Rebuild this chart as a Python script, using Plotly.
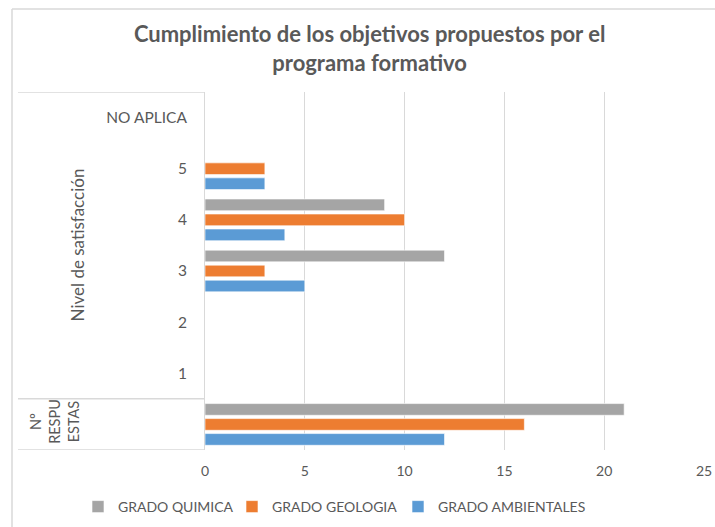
import plotly.graph_objects as go

categories = ["Nº RESPUESTAS", "1", "2", "3", "4", "5", "NO APLICA"]
tick_labels = ["", "1", "2", "3", "4", "5", "NO APLICA"]
quimica = [21, None, None, 12, 9, None, None]
geologia = [16, None, None, 3, 10, 3, None]
ambientales = [12, None, None, 5, 4, 3, None]

# (name, values, colour, legend id, legend text start px)
series = [
    ("GRADO AMBIENTALES", ambientales, "#5B9BD5", "legend3", 438),
    ("GRADO GEOLOGIA", geologia, "#ED7D31", "legend2", 272),
    ("GRADO QUIMICA", quimica, "#A5A5A5", "legend", 118),
]

FONT = "Lato"
GREY_TXT = "#595959"
LINE = "#D9D9D9"

fig = go.Figure()
for name, vals, col, leg, _ in series:
    fig.add_trace(go.Bar(
        y=categories, x=vals, name=name, orientation="h", legend=leg,
        showlegend=True,
        marker=dict(color=col, line=dict(color="rgba(255,255,255,0.6)", width=1)),
    ))

legend_layout = {}
for name, vals, col, leg, tx in series:
    legend_layout[leg] = dict(
        orientation="h",
        xref="container", yref="container",
        x=(tx - 40) / 715, xanchor="left",
        y=1 - 507 / 527, yanchor="middle",
        font=dict(family=FONT, size=14, color=GREY_TXT),
        itemwidth=30, bgcolor="rgba(0,0,0,0)",
    )

fig.update_layout(
    width=715, height=527,
    showlegend=True,
    margin=dict(l=205, r=11, t=92, b=77, autoexpand=False),
    paper_bgcolor="white", plot_bgcolor="white",
    barmode="group", bargap=0.12, bargroupgap=0.22,
    font=dict(family=FONT, size=14, color=GREY_TXT),
    title=dict(
        text="<b>Cumplimiento de los objetivos propuestos por el<br>programa formativo</b>",
        x=0.517, xref="container", xanchor="center",
        y=1 - 42 / 527, yref="container", yanchor="middle",
        font=dict(family=FONT, size=22, color=GREY_TXT),
    ),
    xaxis=dict(
        range=[0, 25], dtick=5, tick0=0,
        showgrid=True, gridcolor=LINE, gridwidth=1,
        zeroline=False, showline=False,
        ticks="", ticklabelstandoff=11,
        tickfont=dict(family=FONT, size=14, color=GREY_TXT),
        fixedrange=True,
    ),
    yaxis=dict(
        type="category", categoryorder="array", categoryarray=categories,
        tickvals=categories, ticktext=tick_labels,
        range=[-0.5, 6.5],
        showline=True, linecolor=LINE, linewidth=1,
        showgrid=False, zeroline=False,
        ticks="", ticklabelstandoff=14,
        tickfont=dict(family=FONT, size=15.5, color=GREY_TXT),
        fixedrange=True,
    ),
    **legend_layout,
)

# multi-level category dividers
for yv in [-0.5, 0.5, 6.5]:
    fig.add_shape(type="line", xref="paper", yref="y",
                  x0=(18 - 205) / 499, x1=0, y0=yv, y1=yv,
                  line=dict(color=LINE, width=1.5))

# outer chart border (left and top)
fig.add_shape(type="line", xref="paper", yref="paper",
              x0=(12 - 205) / 499, x1=(12 - 205) / 499,
              y0=(450 - 527) / 358, y1=(450 - 9) / 358,
              line=dict(color=LINE, width=1.5))
fig.add_shape(type="line", xref="paper", yref="paper",
              x0=(12 - 205) / 499, x1=(715 - 205) / 499,
              y0=(450 - 9) / 358, y1=(450 - 9) / 358,
              line=dict(color=LINE, width=1.5))

# outer category labels
fig.add_annotation(text="Nivel de satisfacción", xref="paper", yref="y",
                   x=(77 - 205) / 499, y=3.5, textangle=-90, showarrow=False,
                   xanchor="center", yanchor="middle",
                   font=dict(family=FONT, size=17, color=GREY_TXT))
fig.add_annotation(text="Nº<br>RESPU<br>ESTAS", xref="paper", yref="y",
                   x=(55 - 205) / 499, y=0.05, textangle=-90, showarrow=False,
                   xanchor="center", yanchor="middle", align="center",
                   font=dict(family=FONT, size=14.5, color=GREY_TXT))

fig.write_html("out.html", config={"displayModeBar": False},
               post_script="document.body.style.margin='0';")
